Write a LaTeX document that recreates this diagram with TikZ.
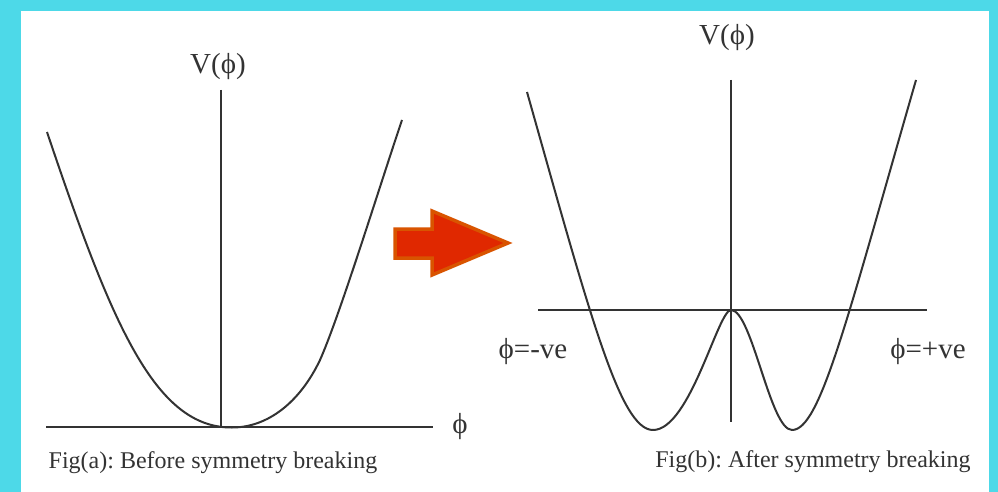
\documentclass[tikz,border=0pt]{standalone}
\usepackage{fontspec}
\setmainfont{Liberation Serif}
\definecolor{frame}{HTML}{4DD9E8}
\definecolor{inkgray}{HTML}{333333}
\definecolor{arrowred}{HTML}{E02800}
\definecolor{arroworange}{HTML}{D95400}
\begin{document}
\frenchspacing
\begin{tikzpicture}[
    x=1pt, y=-1pt,
    curve/.style={draw=inkgray, line width=2pt, line join=round},
    axis/.style={draw=inkgray, line width=2pt},
    lbl/.style={text=inkgray, font=\fontsize{29}{32}\selectfont, inner sep=0pt},
    figcap/.style={text=inkgray, font=\fontsize{24}{27}\selectfont, inner sep=0pt, anchor=base}
]
    % frame
    \fill[frame] (0,0) rectangle (998,492);
    \fill[white] (21,11) rectangle (989,492);

    % Fig(a)
    \coordinate (aTop) at (221,90);
    \coordinate (aBot) at (221,427);
    \coordinate (aLeft) at (46,427);
    \coordinate (aRight) at (433,427);
    \draw[axis] (aTop) -- (aBot);
    \draw[axis] (aLeft) -- (aRight);
    \draw[curve] (47,132) .. controls (112,325) and (155,428) .. (232,427.5)
        .. controls (268,427.5) and (300,402) .. (320,360)
        .. controls (340,315) and (380,185) .. (402,120);
    \node[lbl] (aV) at (218,67) {V(ϕ)};
    \node[lbl] (aPhi) at (460,427) {ϕ};
    \node[figcap] (aCap) at (213,468) {Fig(a): Before symmetry breaking};

    % arrow
    \filldraw[fill=arrowred, draw=arroworange, line width=3.5pt, line join=miter]
        (395,229) -- (432,229) -- (432,211) -- (508,243) -- (432,275) -- (432,258) -- (395,258) -- cycle;

    % Fig(b)
    \coordinate (bTop) at (731,80);
    \coordinate (bBot) at (731,422);
    \coordinate (bLeft) at (538,310);
    \coordinate (bRight) at (927,310);
    \draw[axis] (bTop) -- (bBot);
    \draw[axis] (bLeft) -- (bRight);
    \draw[curve] (527,92) .. controls (590,315) and (620,430) .. (653,430)
        .. controls (690,430) and (718,310) .. (731,310)
        .. controls (752,310) and (770,430) .. (792,430)
        .. controls (820,430) and (846,323) .. (916,80);
    \node[lbl] (bV) at (727,38) {V(ϕ)};
    \node[lbl] (bNeg) at (533,352) {ϕ=-ve};
    \node[lbl] (bPos) at (928,352) {ϕ=+ve};
    \node[figcap] (bCap) at (813,467) {Fig(b): After symmetry breaking};
\end{tikzpicture}
\end{document}
